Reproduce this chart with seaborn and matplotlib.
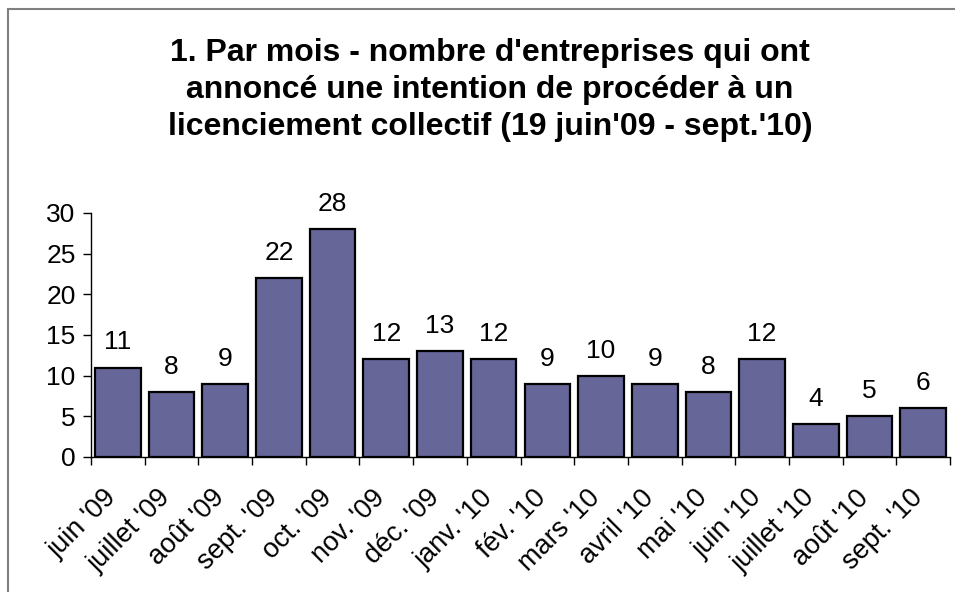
import pandas as pd
import seaborn as sns
import matplotlib.pyplot as plt
import matplotlib.transforms as mtransforms
from matplotlib.patches import Rectangle

# données du graphique
mois = ["juin '09", "juillet '09", "août '09", "sept. '09", "oct. '09", "nov. '09",
        "déc. '09", "janv. '10", "fév. '10", "mars '10", "avril '10", "mai '10",
        "juin '10", "juillet '10", "août '10", "sept. '10"]
entreprises = [11, 8, 9, 22, 28, 12, 13, 12, 9, 10, 9, 8, 12, 4, 5, 6]

df = pd.DataFrame({"mois": mois, "n": entreprises})

sns.set_style("white")
plt.rcParams['font.family'] = ['Liberation Sans', 'DejaVu Sans']
plt.rcParams['text.color'] = 'black'
plt.rcParams['xtick.color'] = 'black'
plt.rcParams['ytick.color'] = 'black'

fig = plt.figure(figsize=(9.55, 5.92), dpi=100)
ax = fig.add_axes([91 / 955, 1 - 457 / 592, 859 / 955, 244 / 592])

sns.barplot(data=df, x="mois", y="n", color="#666699", saturation=1,
            width=0.85, edgecolor="black", linewidth=1.6, ax=ax)

for i, v in enumerate(entreprises):
    ax.annotate(str(v), (i, v), xytext=(0, 13), textcoords="offset points",
                ha="center", va="baseline", fontsize=19)

ax.set_xlim(-0.5, len(mois) - 0.5)
ax.set_ylim(0, 30)
ax.set_yticks(range(0, 31, 5))
ax.tick_params(axis="y", labelsize=19, length=6, width=1, direction="out", left=True, pad=5)
# graduations x aux limites des catégories
ax.set_xticks([i - 0.5 for i in range(len(mois) + 1)], minor=False)
ax.set_xticklabels([])
ax.set_xticks(range(len(mois)), minor=True)
ax.set_xticklabels(mois, minor=True, rotation=45, ha="right", rotation_mode="anchor", fontsize=19.5)
ax.tick_params(axis="x", which="major", length=6, width=1, direction="out", bottom=True)
ax.tick_params(axis="x", which="minor", length=0, pad=20)
# décaler un peu les étiquettes vers la gauche
decal = mtransforms.ScaledTranslation(-14 / 100, 0, fig.dpi_scale_trans)
for lab in ax.get_xticklabels(minor=True):
    lab.set_transform(lab.get_transform() + decal)
ax.set_xlabel("")
ax.set_ylabel("")
for s in ["top", "right"]:
    ax.spines[s].set_visible(False)
for s in ["left", "bottom"]:
    ax.spines[s].set_color("black")
    ax.spines[s].set_linewidth(1)

fig.text(490 / 955, 1 - 90 / 592,
         "1. Par mois - nombre d'entreprises qui ont\n"
         "annoncé une intention de procéder à un\n"
         "licenciement collectif (19 juin'09 - sept.'10)",
         ha="center", va="center", fontsize=23, fontweight="bold", linespacing=1.3)

# cadre du graphique
fig.patches.append(Rectangle((8 / 955, -0.1), 1.1, 1 - 9 / 592 + 0.1, transform=fig.transFigure,
                             fill=False, edgecolor="#808080", linewidth=1.5))

plt.savefig("out.png", dpi=100)
plt.close()
